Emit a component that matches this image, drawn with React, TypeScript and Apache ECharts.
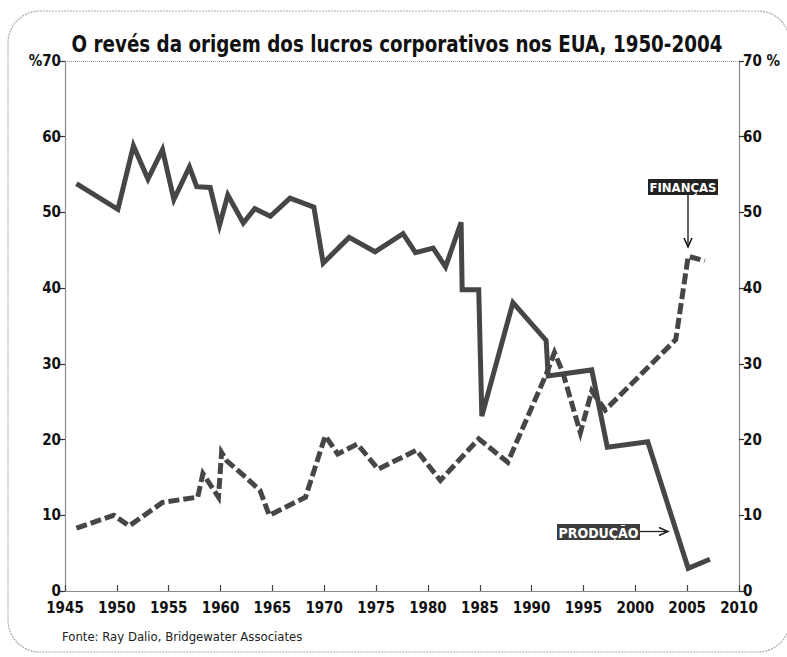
import React, { useEffect, useRef } from "react";
import * as echarts from "echarts";

const TITLE = "O revés da origem dos lucros corporativos nos EUA, 1950-2004";
const SOURCE = "Fonte: Ray Dalio, Bridgewater Associates";
const LABEL_FIN = "FINANÇAS";
const LABEL_PROD = "PRODUÇÃO";

const prodYears = [1946.1, 1950.1, 1951.6, 1953.0, 1954.4, 1955.5, 1957.0, 1957.7, 1959.0, 1959.9, 1960.7, 1962.2, 1963.3, 1964.8, 1966.7, 1969.0, 1969.9, 1972.4, 1974.9, 1977.6, 1978.8, 1980.5, 1981.7, 1983.2, 1983.3, 1984.9, 1985.2, 1988.2, 1991.4, 1991.6, 1995.8, 1997.3, 2001.2, 2005.1, 2007.2];
const prodValues = [53.8, 50.4, 58.8, 54.4, 58.3, 51.7, 56.0, 53.4, 53.3, 48.3, 52.3, 48.6, 50.5, 49.5, 51.9, 50.7, 43.3, 46.7, 44.8, 47.2, 44.7, 45.3, 42.8, 48.7, 39.8, 39.8, 23.1, 38.1, 33.1, 28.4, 29.2, 19.0, 19.7, 3.0, 4.2];

const finYears = [1946.1, 1949.7, 1951.2, 1954.4, 1957.8, 1958.3, 1959.8, 1960.1, 1960.6, 1962.6, 1963.8, 1964.7, 1968.2, 1970.1, 1971.3, 1973.2, 1975.2, 1978.9, 1981.2, 1984.9, 1987.7, 1991.4, 1992.2, 1993.0, 1994.7, 1995.8, 1997.1, 2003.9, 2005.1, 2006.7];
const finValues = [8.3, 10.0, 8.6, 11.7, 12.4, 15.5, 12.4, 18.3, 17.2, 14.8, 13.3, 10.0, 12.4, 20.5, 18.1, 19.4, 16.1, 18.6, 14.6, 20.1, 17.0, 28.6, 31.5, 28.9, 20.9, 26.4, 23.9, 33.2, 44.2, 43.6];

const X_MIN = 1945;
const X_MAX = 2010;
const X_STEP = 5;
const Y_MIN = 0;
const Y_MAX = 70;
const Y_STEP = 10;

const NARROW = "'DejaVu Sans Condensed', 'DejaVu Sans', sans-serif";
const LINE_COLOR = "#464646";

export default function App() {
  const ref = useRef<HTMLDivElement>(null);

  useEffect(() => {
    if (!ref.current) return;
    const chart = echarts.init(ref.current, undefined, { renderer: "svg" });

    const prodData = prodYears.map((y, i) => [y, prodValues[i]]);
    const finData = finYears.map((y, i) => [y, finValues[i]]);

    const axisLabelStyle = {
      color: "#111",
      fontFamily: NARROW,
      fontWeight: "bold" as const,
      fontSize: 15,
    };

    chart.setOption({
      animation: false,
      backgroundColor: "#fff",
      grid: { left: 65, right: 48, top: 61, bottom: 66, containLabel: false },
      xAxis: {
        type: "value",
        min: X_MIN,
        max: X_MAX,
        interval: X_STEP,
        axisLine: { show: true, lineStyle: { color: "#8a8a8a", width: 1.2 } },
        axisTick: { show: true, inside: true, length: 6, lineStyle: { color: "#444", width: 1.2 } },
        axisLabel: { ...axisLabelStyle, margin: 9, formatter: (v: number) => String(v) },
        splitLine: { show: false },
      },
      yAxis: [
        {
          type: "value",
          position: "left",
          min: Y_MIN,
          max: Y_MAX,
          interval: Y_STEP,
          axisLine: { show: true, onZero: false, lineStyle: { color: "#8a8a8a", width: 1.2 } },
          axisTick: { show: true, length: 5, lineStyle: { color: "#333", width: 1.2 } },
          axisLabel: {
            ...axisLabelStyle,
            margin: 4,
            formatter: (v: number) => (v === Y_MAX ? "%" + v : String(v)),
          },
          splitLine: { show: false },
        },
        {
          type: "value",
          position: "right",
          min: Y_MIN,
          max: Y_MAX,
          interval: Y_STEP,
          axisLine: { show: true, onZero: false, lineStyle: { color: "#8a8a8a", width: 1.2 } },
          axisTick: { show: true, length: 5, lineStyle: { color: "#333", width: 1.2 } },
          axisLabel: {
            ...axisLabelStyle,
            margin: 4,
            formatter: (v: number) => (v === Y_MAX ? v + " %" : String(v)),
          },
          splitLine: { show: false },
        },
      ],
      series: [
        {
          name: "Finanças",
          type: "line",
          data: finData,
          yAxisIndex: 0,
          showSymbol: false,
          symbol: "none",
          lineStyle: { color: LINE_COLOR, width: 5, type: [11, 4], cap: "butt", join: "miter" },
          z: 3,
        },
        {
          name: "Produção",
          type: "line",
          data: prodData,
          yAxisIndex: 0,
          showSymbol: false,
          symbol: "none",
          lineStyle: { color: LINE_COLOR, width: 5, type: "solid", cap: "butt", join: "miter" },
          z: 2,
          markLine: {
            silent: true,
            symbol: "none",
            label: { show: false },
            lineStyle: { color: "#999", width: 1, type: "dotted" },
            data: [{ yAxis: Y_MAX }],
          },
        },
      ],
      graphic: [
        {
          type: "rect",
          shape: { x: 8, y: 11, width: 782, height: 641, r: 32 },
          style: { fill: "none", stroke: "#a8a8a8", lineWidth: 1.2, lineDash: [2, 1] },
          silent: true,
          z: -1,
        },
        {
          type: "text",
          x: 397,
          y: 44,
          scaleX: 0.885,
          style: {
            text: TITLE,
            fill: "#111",
            font: `bold 23px ${NARROW}`,
            align: "center",
            verticalAlign: "middle",
          },
        },
        {
          type: "text",
          x: 62,
          y: 636,
          style: {
            text: SOURCE,
            fill: "#222",
            font: `13px ${NARROW}`,
            align: "left",
            verticalAlign: "middle",
          },
        },
        // FINANÇAS annotation
        {
          type: "rect",
          shape: { x: 648, y: 179, width: 70, height: 16 },
          style: { fill: "#222" },
        },
        {
          type: "text",
          x: 683,
          y: 187.5,
          style: {
            text: LABEL_FIN,
            fill: "#fff",
            font: `bold 13px ${NARROW}`,
            align: "center",
            verticalAlign: "middle",
          },
        },
        {
          type: "line",
          shape: { x1: 688, y1: 195, x2: 688, y2: 246 },
          style: { stroke: "#111", lineWidth: 1.3 },
        },
        {
          type: "polyline",
          shape: { points: [[684, 238], [688, 247], [692, 238]] },
          style: { stroke: "#111", lineWidth: 1.5, fill: "none" },
        },
        // PRODUÇÃO annotation
        {
          type: "rect",
          shape: { x: 557, y: 524, width: 83, height: 16 },
          style: { fill: "#3d3d3d" },
        },
        {
          type: "text",
          x: 598.5,
          y: 532.5,
          style: {
            text: LABEL_PROD,
            fill: "#fff",
            font: `bold 14px ${NARROW}`,
            align: "center",
            verticalAlign: "middle",
          },
        },
        {
          type: "line",
          shape: { x1: 640, y1: 531.5, x2: 667, y2: 531.5 },
          style: { stroke: "#222", lineWidth: 1.3 },
        },
        {
          type: "polyline",
          shape: { points: [[659, 527.5], [668, 531.5], [659, 535.5]] },
          style: { stroke: "#222", lineWidth: 1.5, fill: "none" },
        },
      ],
    });

    return () => chart.dispose();
  }, []);

  return (
    <div
      style={{ position: "fixed", left: 0, top: 0, width: 787, height: 657, background: "#fff" }}
    >
      <div ref={ref} style={{ width: 787, height: 657 }} />
    </div>
  );
}
